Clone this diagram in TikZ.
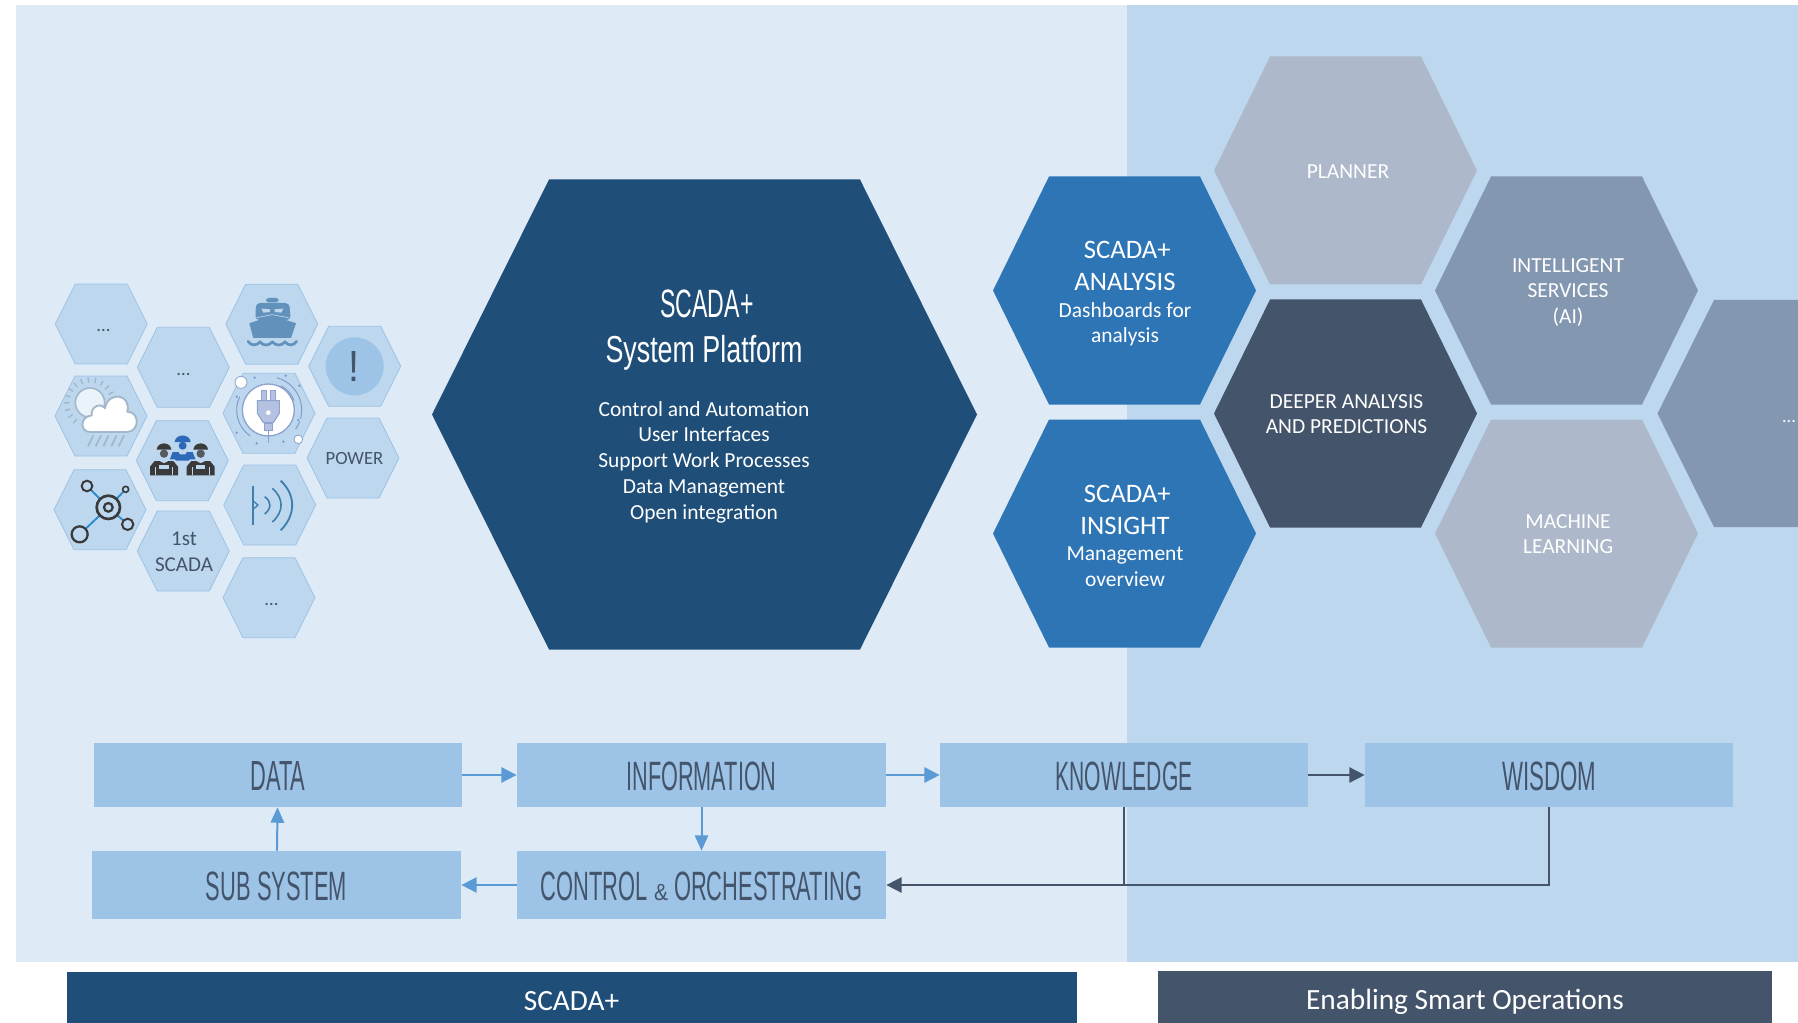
\documentclass[tikz,border=0pt]{standalone}
\usepackage{fontspec}
\usepackage{graphicx}
\setmainfont{Carlito}
\newfontfamily\agency{Liberation Sans}
\usetikzlibrary{arrows.meta}
\definecolor{panelL}{HTML}{DEEAF6}
\definecolor{panelR}{HTML}{BDD7EE}
\definecolor{flowc}{HTML}{9DC3E6}
\definecolor{navy}{HTML}{1F4E79}
\definecolor{midblue}{HTML}{2E75B6}
\definecolor{slate}{HTML}{44546A}
\definecolor{greyL}{HTML}{ADB9CA}
\definecolor{greyM}{HTML}{8497B0}
\definecolor{arrowL}{HTML}{5B9BD5}
\definecolor{shipc}{HTML}{6291BC}
\definecolor{plugc}{HTML}{8DA2CE}
\definecolor{plugf}{HTML}{B4C1E0}
\definecolor{wx}{HTML}{A3B7CA}
\definecolor{darkw}{HTML}{3A3A3A}
\definecolor{bluew}{HTML}{2E68B8}
\definecolor{netb}{HTML}{2E8BCB}
\definecolor{sigc}{HTML}{3F7FAF}
\newlength{\pxu}\setlength{\pxu}{0.75pt}
\newcommand{\agtxt}[2]{\resizebox*{#1\pxu}{#2\pxu}}
\newcommand{\agnode}[3]{\resizebox*{#1\pxu}{#2\pxu}{\agency #3}}
\newcommand{\agdown}[3]{\raisebox{\dimexpr-#2\pxu/2-\pxu\relax}[0pt][0pt]{\resizebox*{#1\pxu}{#2\pxu}{\agency #3}}}
\newcommand{\bigf}{\fontsize{20}{24}\selectfont}
% polygon: cx cy halfw halfh inset style
\newcommand{\hexa}[6]{\path[#6] ({#1-#3},#2) -- ({#1-#3+#5},{#2-#4}) -- ({#1+#3-#5},{#2-#4}) -- ({#1+#3},#2) -- ({#1+#3-#5},{#2+#4}) -- ({#1-#3+#5},{#2+#4}) -- cycle;}
\newcommand{\shex}[2]{\hexa{#1}{#2}{46}{40}{20}{smallhex}}
\newcommand{\rhex}[3]{\hexa{#1}{#2}{131.5}{114}{56}{fill=#3}}
\tikzset{
  smallhex/.style={fill=panelR,draw=flowc,line width=0.6pt},
  flowbox/.style={fill=flowc,inner sep=0pt,minimum width=368*0.75pt,minimum height=64*0.75pt,text=slate},
  whitetxt/.style={text=white,align=center,inner sep=0pt,font=\fontsize{16.1}{19.3}\selectfont},
  darktxt/.style={text=slate,align=center,inner sep=0pt,font=\fontsize{14}{19.5}\selectfont},
  barbox/.style={inner sep=0pt,minimum height=51*0.75pt},
  bartxt/.style={inner sep=0pt,text=white,font=\fontsize{22}{26}\selectfont},
  arrL/.style={draw=arrowL,line width=2pt,-{Triangle[length=11.6pt,width=11.3pt]}},
  arrLt/.style={draw=arrowL,line width=1.5pt,-{Triangle[length=11.6pt,width=10pt]}},
  arrD/.style={draw=slate,line width=2pt,-{Triangle[length=11.6pt,width=11.3pt]}},
  lineD/.style={draw=slate,line width=1.5pt},
}
\begin{document}
\begin{tikzpicture}[x=0.75pt,y=-0.75pt]
\useasboundingbox (0,0) rectangle (1798,1023);
% panels
\fill[panelL] (16,5) rectangle (1127,962);
\fill[panelR] (1127,5) rectangle (1798,962);
% bottom bars
\node[barbox,fill=navy,minimum width=1010*0.75pt] (barL) at (572,997.5) {};
\node[barbox,fill=slate,minimum width=614*0.75pt,minimum height=52*0.75pt] (barR) at (1464.5,997) {};
\node[bartxt] (barLtxt) at (571.5,1001) {SCADA+};
\node[bartxt] (barRtxt) at (1465,1002) {Enabling Smart Operations};
% big hexagon
\hexa{704.5}{414.5}{272.5}{235}{117}{fill=navy}
\node[inner sep=0pt,text=white] (titleA) at (707,304) {\agnode{93}{28}{SCADA+}};
\node[inner sep=0pt,text=white] (titleB) at (704,353) {\agnode{197}{35}{System Platform}};
\node[whitetxt] (bigtxt) at (704,462) {Control and Automation\\User Interfaces\\Support Work Processes\\Data Management\\Open integration};
% right hexagons
\rhex{1124.5}{290.5}{midblue}
\rhex{1124.5}{533.5}{midblue}
\rhex{1345.5}{170.5}{greyL}
\rhex{1345.5}{413.5}{slate}
\rhex{1566.5}{290.5}{greyM}
\rhex{1566.5}{533.5}{greyL}
\fill[greyM] (1798,300) -- (1714,300) -- (1657.5,413.5) -- (1714,527) -- (1798,527) -- cycle;
\node[whitetxt] (analysis) at (1125,294) {\hspace*{3.4pt}{\bigf SCADA+}\\[4.7pt]{\bigf ANALYSIS}\\[0.5pt]Dashboards for\\analysis};
\node[whitetxt] (insight) at (1125,536) {\hspace*{3.4pt}{\bigf SCADA+}\\[4.7pt]{\bigf INSIGHT}\\[0.5pt]Management\\overview};
\node[whitetxt] (planner) at (1348,172) {PLANNER};
\node[whitetxt,font=\fontsize{16.1}{18.6}\selectfont] (deeper) at (1346.5,414) {DEEPER ANALYSIS\\AND PREDICTIONS};
\node[whitetxt] (intel) at (1568,292.5) {INTELLIGENT\\SERVICES\\(AI)};
\node[whitetxt] (mach) at (1568,534) {MACHINE\\LEARNING};
\node[whitetxt,font=\fontsize{13.5}{16}\selectfont] (moreR) at (1789,421.5) {...};
% small hexagons
\shex{101.2}{324}
\shex{183.3}{367.3}
\shex{271.7}{324.2}
\shex{354.7}{366.3}
\shex{101}{416}
\shex{269}{413.3}
\shex{182.3}{460.7}
\shex{353}{458}
\shex{100}{509.7}
\shex{269.7}{505}
\shex{183.3}{551}
\shex{269}{597.7}
\node[darktxt] (d1) at (103.5,331) {...};
\node[darktxt] (d2) at (183.5,375) {...};
\node[darktxt] (d3) at (271.5,605) {...};
\node[darktxt] (power) at (354.5,458.5) {POWER};
\node[darktxt,font=\fontsize{15.8}{19.5}\selectfont] (first) at (184,552) {1st\\SCADA};
% icons in 3x crop coordinates
\begin{scope}[shift={(40,270)},x=0.25pt,y=-0.25pt]
  % alert
  \fill[flowc] (944,289) circle (87);
  \node[text=slate,inner sep=0pt] (alert) at (943,290) {\agnode{11}{30}{!}};
  % ship
  \fill[shipc,rounded corners=2pt] (678,84) rectangle (716,97);
  \fill[shipc,rounded corners=3pt] (646,150) -- (648,99) -- (748,99) -- (752,150) -- cycle;
  \fill[panelR] (664,116) -- (691,118) -- (689,126) -- (670,128) -- cycle;
  \fill[panelR] (730,116) -- (703,118) -- (705,126) -- (724,128) -- cycle;
  \fill[shipc] (628,160) -- (697,136) -- (768,160) -- (753,204) -- (640,204) -- cycle;
  \draw[panelR,line width=0.5pt] (650,143) -- (697,134) -- (746,143);
  \draw[shipc,line width=2pt,line cap=round] (624,214) .. controls (634,228) and (648,228) .. (660,216) .. controls (670,228) and (685,228) .. (697,216) .. controls (709,228) and (724,228) .. (735,216) .. controls (746,228) and (760,228) .. (770,214);
  % weather
  \foreach \a in {130,147,...,335} \draw[wx,line width=1.1pt] ({150+62*cos(\a)},{400+62*sin(\a)}) -- ({150+78*cos(\a)},{400+78*sin(\a)});
  \fill[draw=wx,fill=white!70!panelR,line width=1.2pt] (150,398) circle (44);
  \path[fill=white,draw=wx,line width=1.4pt] (150,486) .. controls (120,486) and (118,440) .. (155,436) .. controls (152,406) and (185,399) .. (195,414) .. controls (205,362) and (275,372) .. (262,425) .. controls (300,425) and (300,486) .. (260,486) -- cycle;
  \foreach \x in {160,183,206,230,252} \draw[wx,line width=1.3pt] (\x,496) -- ({\x-16},529);
  % plug
  \foreach \a/\b/\r in {-75/15/100,20/35/100,125/205/95,-62/-20/82}
    \draw[plugc!80!sigc,line width=0.7pt] ({685+\r*cos(\a)},{420+\r*sin(\a)}) arc[start angle=\a,end angle=\b,radius=\r];
  \foreach \p in {(644,323),(737,317),(778,347),(590,380),(590,488),(650,520),(730,515),(775,450)} \fill[plugc!80!sigc] \p circle (4);
  \fill[white,draw=plugc,line width=1pt] (685,420) circle (78);
  \fill[white,draw=plugc,line width=0.6pt] (603,337) circle (18);
  \fill[white,draw=plugc,line width=0.6pt] (775,508) circle (13);
  \fill[plugf,draw=plugc,line width=0.6pt] (665,362) rectangle (678,392);
  \fill[plugf,draw=plugc,line width=0.6pt] (692,362) rectangle (705,392);
  \fill[plugf,draw=plugc,line width=0.8pt] (652,392) -- (718,392) -- (718,430) -- (700,458) -- (670,458) -- (652,430) -- cycle;
  \fill[white] (685,428) circle (7);
  \fill[plugf,draw=plugc,line width=0.6pt] (672,460) rectangle (698,482);
  \draw[plugc,line width=0.7pt] (685,482) -- (685,520);
  % workers
  \fill[bluew] (388,572) -- (398,546) -- (458,546) -- (468,572) -- cycle;
  \fill[panelR] (416,546) -- (440,546) -- (436,553) -- (420,553) -- cycle;
  \fill[bluew] (404,516) .. controls (406,490) and (450,490) .. (452,516) -- cycle;
  \fill[bluew] (428,527) circle (12);
  \foreach \c in {372,482} {
    \fill[panelR] (\c-48,620) -- (\c-48,588) -- (\c-32,568) -- (\c+32,568) -- (\c+48,588) -- (\c+48,620) -- cycle;
    \fill[darkw] (\c-22,539) .. controls (\c-20,514) and (\c+20,514) .. (\c+22,539) -- cycle;
    \fill[darkw!80!panelR] (\c,551) circle (12.5);
    \fill[darkw] (\c-42,616) -- (\c-42,590) -- (\c-28,573) -- (\c-14,573) -- (\c,580) -- (\c+14,573) -- (\c+28,573) -- (\c+42,590) -- (\c+42,616) -- cycle;
    \draw[panelR,line width=0.7pt] (\c-25,592) -- (\c-25,616);
    \draw[panelR,line width=0.7pt] (\c+25,592) -- (\c+25,616);
    \fill[panelR] (\c-14,584) rectangle (\c+14,596);
  }
  % network
  \draw[netb,line width=1.4pt] (141,648) -- (205,712);
  \draw[netb,line width=1.4pt] (257,658) -- (205,712);
  \draw[netb,line width=1.4pt] (263,763) -- (205,712);
  \draw[netb,line width=1.4pt] (119,793) -- (205,712);
  \fill[panelR,draw=darkw,line width=2pt] (205,712) circle (35);
  \draw[darkw,line width=1.7pt] (205,712) circle (13);
  \fill[panelR,draw=darkw,line width=1.5pt] (141,648) circle (16);
  \fill[panelR,draw=darkw,line width=1.2pt] (257,658) circle (9);
  \fill[panelR,draw=darkw,line width=1.5pt] (263,763) circle (17);
  \fill[panelR,draw=darkw,line width=1.7pt] (119,793) circle (24);
  % signal
  \draw[sigc,line width=1.5pt] (640,648) -- (640,766);
  \draw[sigc,line width=1pt] (642,695) -- (654,705) -- (642,716);
  \draw[sigc,line width=1.2pt] (674,680) .. controls (695,695) and (695,715) .. (674,732);
  \draw[sigc,line width=1.2pt] (697,655) .. controls (732,685) and (732,725) .. (697,756);
  \draw[sigc,line width=1.4pt] (722,632) .. controls (768,675) and (768,735) .. (722,781);
\end{scope}
% flow boxes
\node[flowbox] (data) at (278,775) {\agdown{55}{29}{DATA}};
\node[flowbox,minimum width=369*0.75pt] (info) at (701.5,775) {\agdown{150}{29}{INFORMATION}};
\node[flowbox] (know) at (1124,775) {\agdown{137}{29}{KNOWLEDGE}};
\node[flowbox] (wisdom) at (1549,775) {\agdown{94}{29}{WISDOM}};
\node[flowbox,minimum height=68*0.75pt,minimum width=369*0.75pt] (sub) at (276.5,885) {\agdown{141}{29}{SUB SYSTEM}};
\node[flowbox,minimum width=369*0.75pt,minimum height=68*0.75pt] (ctrl) at (701.5,885) {\agdown{321}{29}{CONTROL {\fontsize{6}{7}\selectfont\scalebox{1.6}[0.95]{\&}} ORCHESTRATING}};
% connectors
\draw[arrL] (data) -- (info);
\draw[arrL] (info) -- (know);
\draw[arrD] (know) -- (wisdom);
\draw[arrLt] (info) -- (ctrl);
\draw[arrL] (ctrl) -- (sub);
\draw[arrLt] (sub) -- (data);
\draw[lineD] (know.south) -- (know.south |- ctrl.east);
\draw[arrD] (wisdom.south) |- (ctrl.east);
\end{tikzpicture}
\end{document}
